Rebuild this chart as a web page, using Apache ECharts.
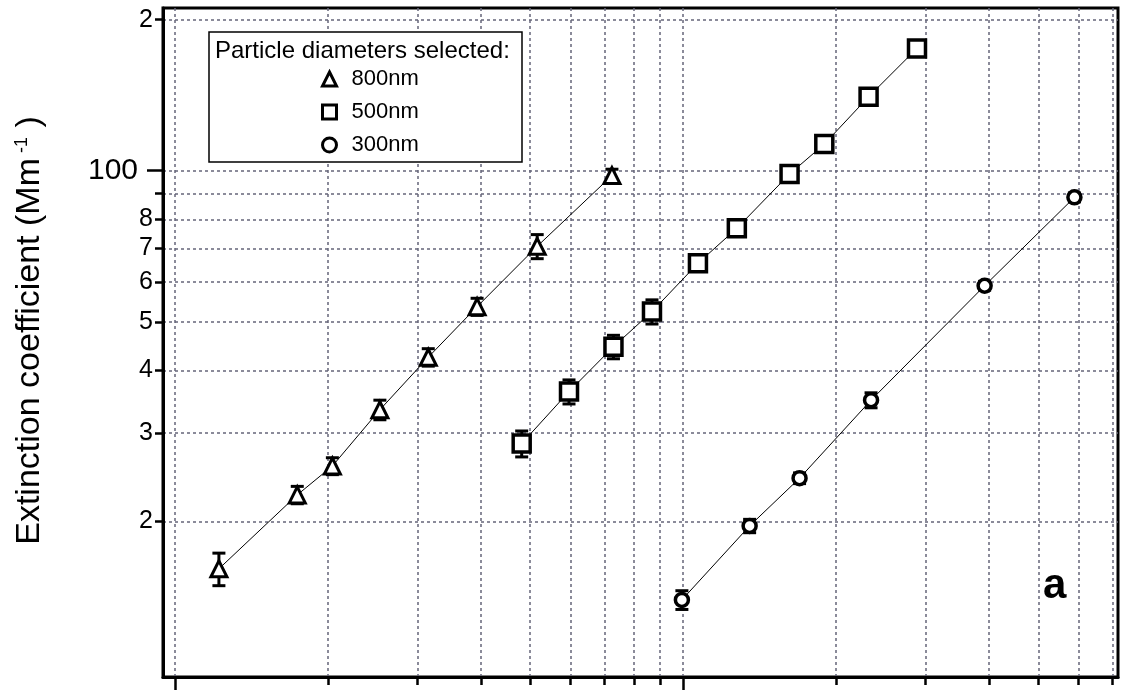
<!DOCTYPE html>
<html><head><meta charset="utf-8">
<script src="https://cdn.jsdelivr.net/npm/echarts@6/dist/echarts.min.js"></script>
<style>html,body{margin:0;padding:0;background:#fff}#c{width:1121px;height:695px}</style>
</head><body><div id="c"></div>
<script>
// ---- data ----
const xMajorTicks = [10, 100];
const xMinorTicks = [20, 30, 40, 50, 60, 70, 80, 90, 200, 300, 400, 500, 600, 700];
const yMajorTicks = [100];
const yMinorTicks = [20, 30, 40, 50, 60, 70, 80, 90, 200];
const yMinorLabels = [20, 30, 40, 50, 60, 70, 80, 200];
const seriesNames = ['800nm', '500nm', '300nm'];
const legendTitle = 'Particle diameters selected:';
const panelLabel = 'a';

const x800 = [12.2, 17.4, 20.4, 25.3, 31.5, 39.3, 51.6, 72.4];
const y800 = [16.1, 22.6, 25.8, 33.4, 42.5, 53.6, 70.7, 97.8];
const e800 = [1.2, 0.9, 1.0, 1.5, 1.7, 2.1, 3.9, 2.9];

const x500 = [48.1, 59.6, 72.9, 86.8, 106.9, 127.5, 161.9, 189.5, 231.6, 288.4];
const y500 = [28.6, 36.3, 44.6, 52.4, 65.4, 76.8, 98.5, 113.0, 140.4, 175.3];
const e500 = [1.7, 2.0, 2.4, 2.9, 2.0, 1.5, 2.0, 2.3, 2.8, 3.5];

const x300 = [99.4, 135.1, 169.4, 234.2, 391.8, 588.5];
const y300 = [13.96, 19.6, 24.4, 34.9, 59.0, 88.5];
const e300 = [0.6, 0.6, 0.6, 1.2, 1.2, 1.8];

// ---- build ----
const FONT = '"Liberation Sans", Arial, sans-serif';
const gridLine = { show: true, lineStyle: { color: '#66667a', width: 1.5, type: [3, 3] } };
const pts = (xs, ys) => xs.map((x, i) => [x, ys[i]]);
const errs = (xs, ys, es) => xs.map((x, i) => [x, ys[i], es[i]]);

function errRender(params, api) {
  const x = api.value(0), y = api.value(1), e = api.value(2);
  const top = api.coord([x, y + e]);
  const bot = api.coord([x, y - e]);
  const w = 6.5;
  const st = { stroke: '#000', lineWidth: 3 };
  return {
    type: 'group',
    children: [
      { type: 'line', shape: { x1: top[0], y1: top[1], x2: bot[0], y2: bot[1] }, style: st },
      { type: 'line', shape: { x1: top[0] - w, y1: top[1], x2: top[0] + w, y2: top[1] }, style: st },
      { type: 'line', shape: { x1: bot[0] - w, y1: bot[1], x2: bot[0] + w, y2: bot[1] }, style: st }
    ]
  };
}

const symbols = ['triangle', 'rect', 'circle'];
const sizes = [16, 17, 13];
const bws = [3, 3.5, 3.5];
const xs = [x800, x500, x300], ys = [y800, y500, y300], es = [e800, e500, e300];

const series = [];
for (let k = 0; k < 3; k++) {
  series.push({
    type: 'custom', name: seriesNames[k] + '-err', renderItem: errRender,
    data: errs(xs[k], ys[k], es[k]), encode: { x: 0, y: 1 }, z: 2, silent: true, clip: true
  });
}
for (let k = 0; k < 3; k++) {
  series.push({
    type: 'line', name: seriesNames[k], data: pts(xs[k], ys[k]),
    symbol: symbols[k], symbolSize: sizes[k], showAllSymbol: true,
    lineStyle: { color: '#000', width: 1 },
    itemStyle: { color: '#fff', borderColor: '#000', borderWidth: bws[k] },
    emphasis: { disabled: true }, z: 3, animation: false
  });
}

const axisLineStyle = { show: true, onZero: false, lineStyle: { color: '#000', width: 3 } };

const option = {
  animation: false,
  backgroundColor: '#fff',
  grid: { left: 163, right: 3, top: 8, bottom: 18, show: true, borderColor: '#000', borderWidth: 3, backgroundColor: 'transparent' },
  xAxis: [
    { type: 'log', logBase: 10, min: 9.47, max: 717, position: 'bottom',
      axisLine: axisLineStyle,
      axisTick: { show: true, inside: false, length: 13, lineStyle: { color: '#000', width: 2.5 }, customValues: xMajorTicks },
      axisLabel: { show: false }, splitLine: gridLine, minorTick: { show: false } },
    { type: 'log', logBase: 10, min: 9.47, max: 717, position: 'bottom',
      axisLine: { show: false, onZero: false },
      axisTick: { show: true, inside: false, length: 8, lineStyle: { color: '#000', width: 2.5 }, customValues: xMinorTicks },
      axisLabel: { show: false }, splitLine: gridLine }
  ],
  yAxis: [
    { type: 'log', logBase: 10, min: 9.8, max: 211, position: 'left',
      axisLine: axisLineStyle,
      axisTick: { show: true, inside: false, length: 16, lineStyle: { color: '#000', width: 2.5 }, customValues: yMajorTicks },
      axisLabel: { show: true, customValues: yMajorTicks, margin: 25, fontSize: 30, color: '#000', fontFamily: FONT,
        formatter: v => String(Math.round(v)) },
      splitLine: gridLine,
      name: '{t|Extinction coefficient (Mm}{s|-1}{t| )}',
      nameLocation: 'middle', nameGap: 116, nameRotate: 90,
      nameTextStyle: { padding: [0, 0, 0, 24],
        rich: { t: { fontSize: 34, fontFamily: FONT, color: '#000' },
                s: { fontSize: 18, fontFamily: FONT, color: '#000', verticalAlign: 'top', padding: [0, 0, 16, 5] } } } },
    { type: 'log', logBase: 10, min: 9.8, max: 211, position: 'left',
      axisLine: { show: false, onZero: false },
      axisTick: { show: true, inside: false, length: 8, lineStyle: { color: '#000', width: 2.5 }, customValues: yMinorTicks },
      axisLabel: { show: true, customValues: yMinorLabels, margin: 10, fontSize: 25, color: '#000', fontFamily: FONT,
        formatter: v => String(Math.round(v)).charAt(0) },
      splitLine: gridLine }
  ],
  legend: {
    data: seriesNames.map((n, k) => ({ name: n, icon: symbols[k],
      itemStyle: { color: '#fff', borderColor: '#000', borderWidth: 3 } })),
    orient: 'vertical', left: 321, top: 68, padding: 0,
    itemWidth: 14, itemHeight: 14, itemGap: 11, selectedMode: false, z: 6,
    textStyle: { fontSize: 22, fontFamily: FONT, color: '#000', lineHeight: 22, padding: [0, 0, 0, 10] }
  },
  graphic: [
    { type: 'rect', z: 4, shape: { x: 209, y: 32, width: 313, height: 130 },
      style: { fill: '#fff', stroke: '#000', lineWidth: 1.5 } },
    { type: 'text', z: 5, left: 215, top: 39,
      style: { text: legendTitle, fontSize: 24, fontFamily: FONT, fill: '#000' } },
    { type: 'text', z: 5, left: 1043, top: 565,
      style: { text: panelLabel, fontSize: 42, fontWeight: 'bold', fontFamily: FONT, fill: '#000' } }
  ],
  series: series
};

const chart = echarts.init(document.getElementById('c'), null, { renderer: 'canvas' });
chart.setOption(option);
</script></body></html>
